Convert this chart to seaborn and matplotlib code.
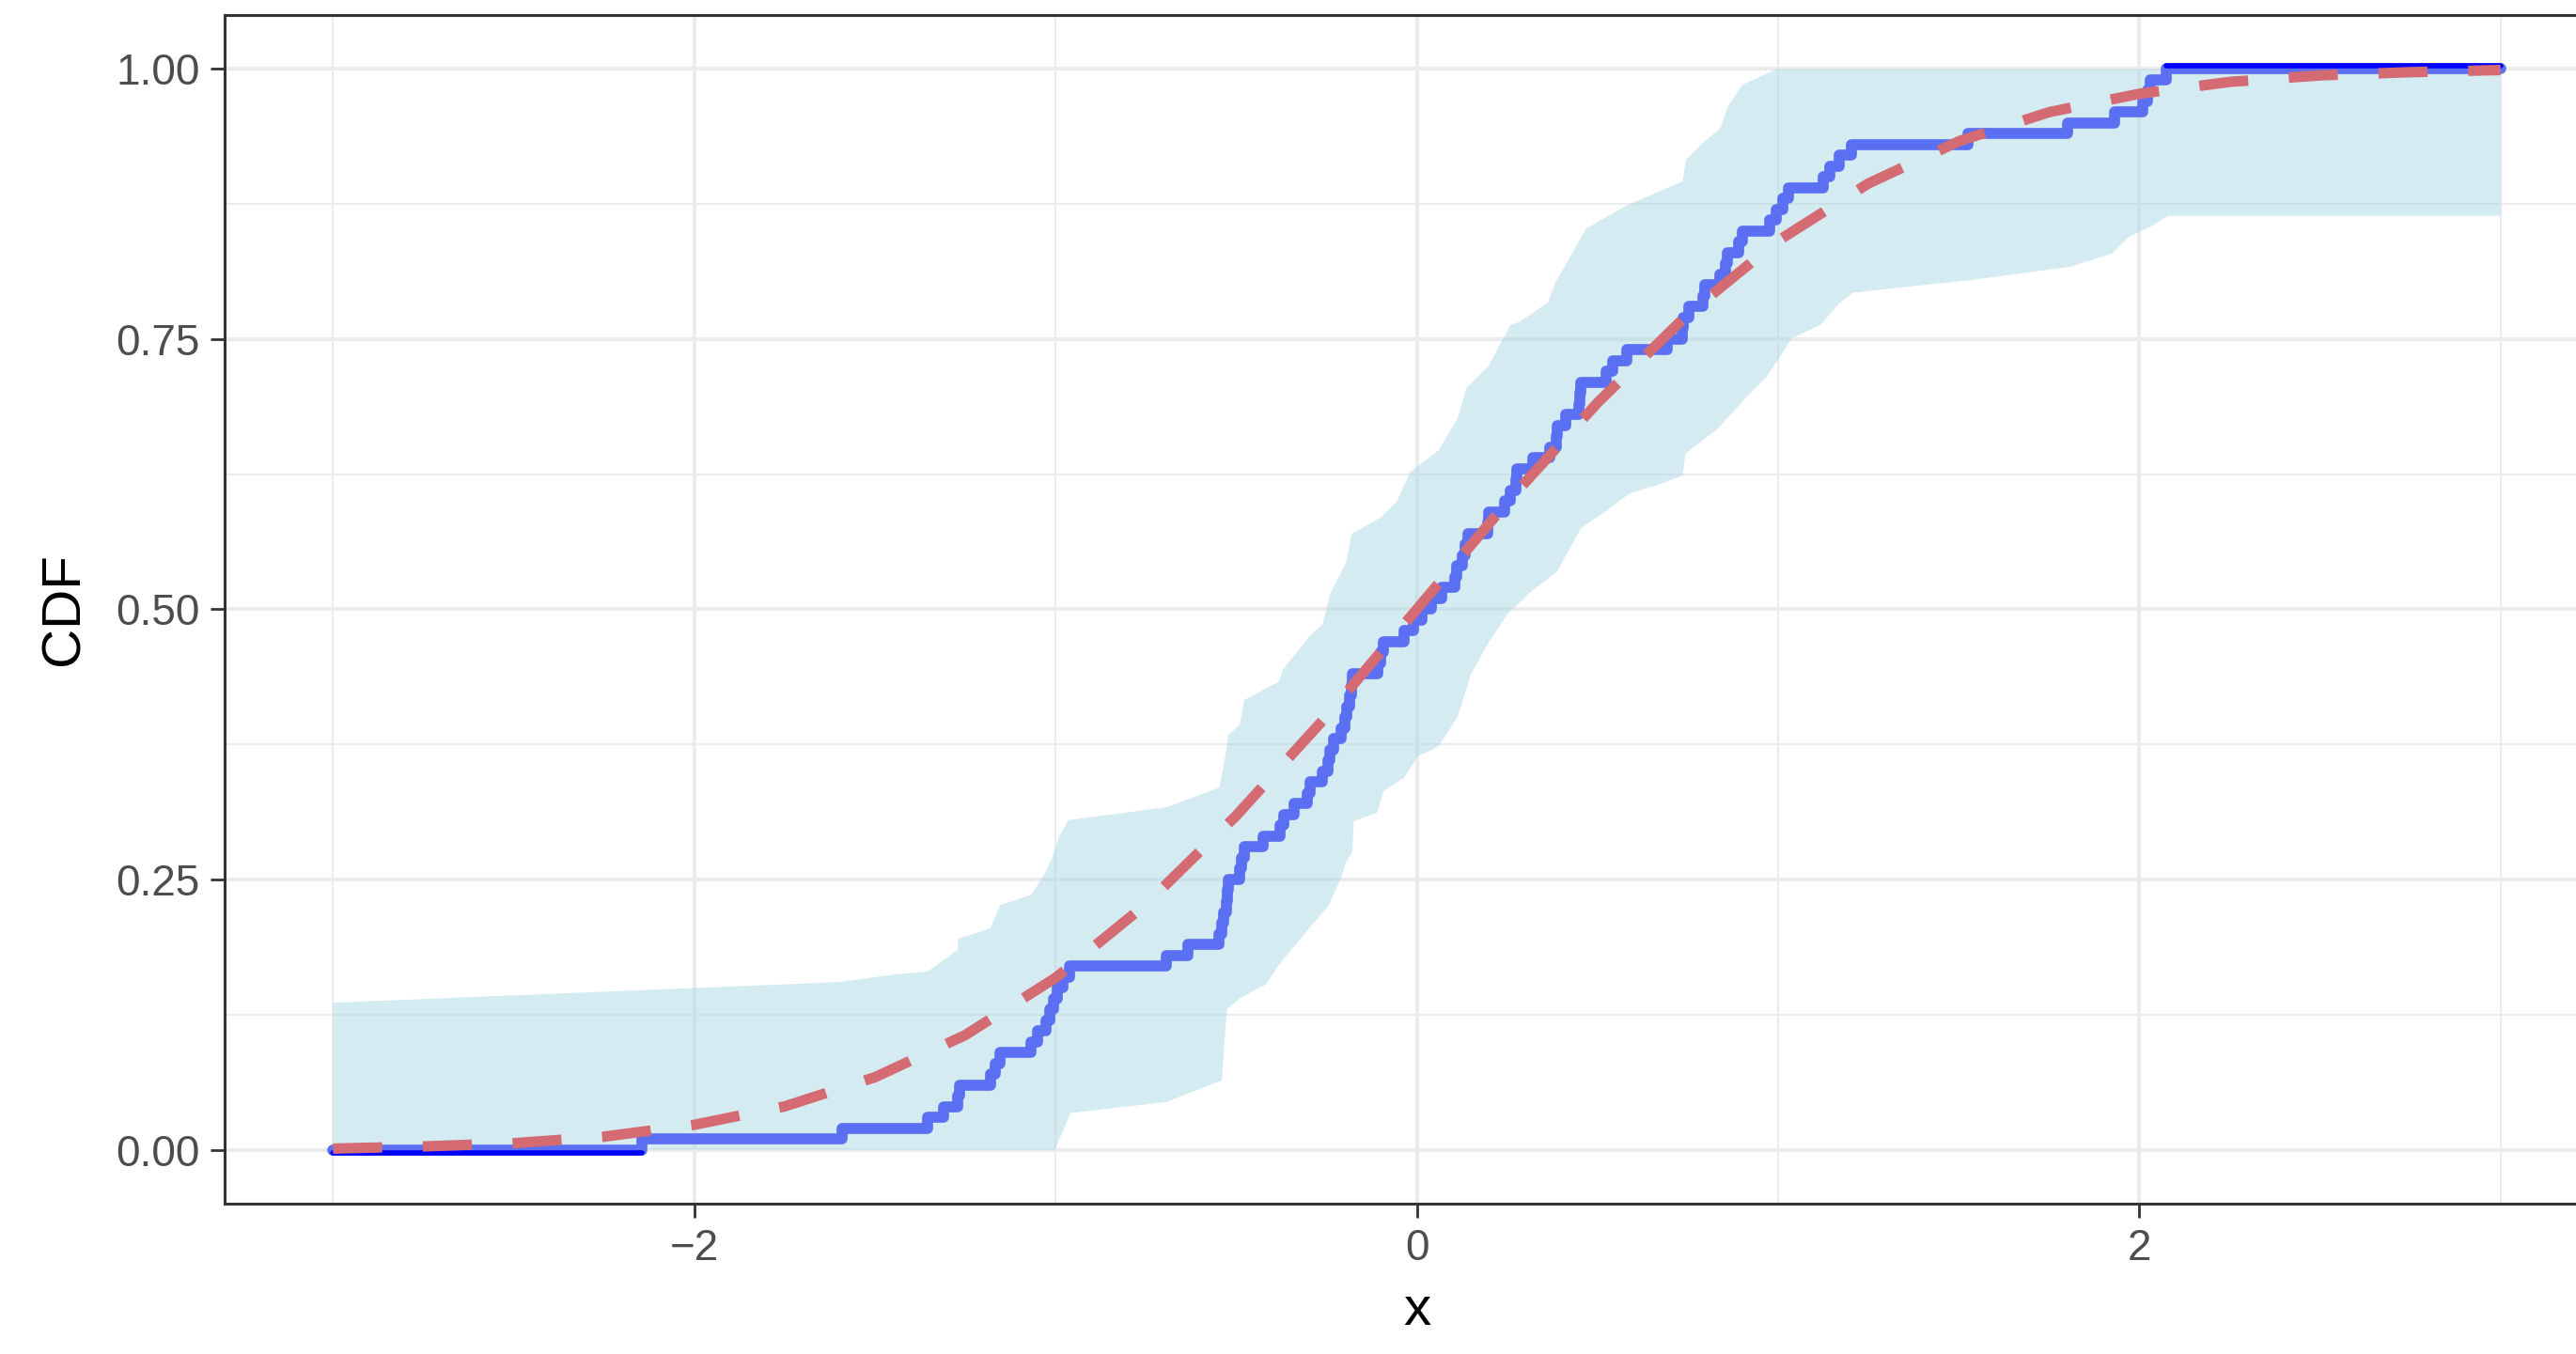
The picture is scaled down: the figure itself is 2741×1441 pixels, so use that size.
import numpy as np
import matplotlib
matplotlib.use('Agg')
import matplotlib.pyplot as plt
import matplotlib.transforms as mtransforms
import seaborn as sns

# sorted sample values (where the empirical CDF jumps)
samples = [-2.145, -1.59, -1.353, -1.31, -1.271, -1.265, -1.18, -1.167, -1.154, -1.067,
           -1.05, -1.026, -1.015, -1.005, -0.995, -0.98, -0.962, -0.694, -0.634, -0.547,
           -0.540, -0.536, -0.528, -0.525, -0.522, -0.490, -0.486, -0.477, -0.425, -0.378,
           -0.369, -0.339, -0.304, -0.295, -0.261, -0.245, -0.241, -0.230, -0.209, -0.198,
           -0.194, -0.185, -0.182, -0.179, -0.109, -0.100, -0.092, -0.036, -0.009, 0.013,
           0.040, 0.068, 0.105, 0.110, 0.125, 0.135, 0.142, 0.196, 0.200, 0.242,
           0.259, 0.274, 0.278, 0.320, 0.367, 0.385, 0.389, 0.411, 0.448, 0.451,
           0.455, 0.523, 0.541, 0.580, 0.692, 0.734, 0.738, 0.753, 0.792, 0.797,
           0.840, 0.855, 0.860, 0.890, 0.900, 0.978, 0.996, 1.013, 1.030, 1.126,
           1.143, 1.169, 1.204, 1.525, 1.802, 1.932, 2.010, 2.023, 2.030, 2.075]
x_lo, x_hi = -3, 3

# confidence band edges
band_upper_x = [-3, -1.6, -1.448, -1.353, -1.27, -1.27, -1.18, -1.154, -1.067, -1.03,
                -1.01, -0.99, -0.964, -0.69, -0.634, -0.547, -0.534, -0.521, -0.49, -0.478,
                -0.382, -0.369, -0.3, -0.261, -0.239, -0.196, -0.18, -0.1, -0.055, -0.018,
                0.06, 0.112, 0.138, 0.198, 0.259, 0.285, 0.363, 0.385, 0.468, 0.582,
                0.632, 0.736, 0.745, 0.797, 0.84, 0.861, 0.9, 0.996, 3]
band_upper_y = [0.136, 0.155, 0.162, 0.165, 0.185, 0.195, 0.205, 0.226, 0.236, 0.255,
                0.27, 0.29, 0.305, 0.317, 0.324, 0.335, 0.356, 0.384, 0.393, 0.416,
                0.433, 0.445, 0.474, 0.486, 0.515, 0.543, 0.57, 0.585, 0.6, 0.627,
                0.647, 0.676, 0.705, 0.725, 0.763, 0.766, 0.784, 0.803, 0.852, 0.874,
                0.881, 0.896, 0.916, 0.933, 0.945, 0.965, 0.985, 1.0, 1.0]
band_lower_x = [-3, -1.002, -0.976, -0.959, -0.694, -0.634, -0.54, -0.53, -0.525, -0.49,
                -0.417, -0.382, -0.304, -0.244, -0.209, -0.196, -0.179, -0.174, -0.109, -0.092,
                -0.036, 0.003, 0.06, 0.112, 0.15, 0.2, 0.25, 0.311, 0.389, 0.454,
                0.528, 0.588, 0.675, 0.736, 0.744, 0.832, 0.923, 0.968, 1.039, 1.117,
                1.169, 1.208, 1.542, 1.81, 1.923, 1.968, 2.036, 2.079, 3]
band_lower_y = [0, 0, 0.02, 0.034, 0.044, 0.052, 0.064, 0.11, 0.13, 0.14,
                0.153, 0.171, 0.2025, 0.226, 0.252, 0.266, 0.275, 0.304, 0.312, 0.332,
                0.344, 0.364, 0.373, 0.4, 0.44, 0.47, 0.495, 0.515, 0.535, 0.575,
                0.592, 0.607, 0.616, 0.624, 0.644, 0.667, 0.70, 0.715, 0.751, 0.763,
                0.783, 0.793, 0.805, 0.817, 0.829, 0.844, 0.855, 0.864, 0.864]

# theoretical (normal) CDF read at a grid
norm_x = [-3, -2.75, -2.5, -2.25, -2, -1.75, -1.5, -1.25, -1, -0.75, -0.5, -0.25, 0,
          0.25, 0.5, 0.75, 1, 1.25, 1.5, 1.75, 2, 2.25, 2.5, 2.75, 3]
norm_y = [0.001, 0.003, 0.006, 0.012, 0.023, 0.040, 0.067, 0.106, 0.159, 0.227, 0.309, 0.401, 0.5,
          0.599, 0.691, 0.773, 0.841, 0.894, 0.933, 0.960, 0.977, 0.988, 0.994, 0.997, 0.999]

n = len(samples)
ecdf_x = [x_lo] + samples + [x_hi]
ecdf_y = [0.0] + list(np.arange(1, n + 1) / n) + [1.0]

sns.set_theme(style='white')
plt.rcParams['font.family'] = ['Liberation Sans', 'DejaVu Sans']

fig = plt.figure(figsize=(2741 / 200, 1441 / 200), dpi=200)
ax = fig.add_axes([0.0872, 0.111, 0.9256, 0.878])

# band
ax.fill(np.r_[band_upper_x, band_lower_x[::-1]], np.r_[band_upper_y, band_lower_y[::-1]],
        color='lightblue', alpha=0.5, lw=0, zorder=1)

# empirical CDF
sns.lineplot(x=ecdf_x, y=ecdf_y, drawstyle='steps-post', color='#5A6FF2', lw=4.2,
             estimator=None, sort=False, ax=ax, zorder=2,
             solid_capstyle='round', solid_joinstyle='round')

# pure blue tails
down = mtransforms.offset_copy(ax.transData, fig=fig, x=0, y=-3.0, units='dots')
up = mtransforms.offset_copy(ax.transData, fig=fig, x=0, y=3.0, units='dots')
ax.plot([x_lo, samples[0]], [0, 0], color='blue', lw=2.0, transform=down, zorder=3,
        solid_capstyle='round')
ax.plot([samples[-1], x_hi], [1, 1], color='blue', lw=2.0, transform=up, zorder=3,
        solid_capstyle='round')

# theoretical CDF
sns.lineplot(x=norm_x, y=norm_y, color='#D46B73', lw=4.0, ax=ax, zorder=4)
ax.lines[-1].set_dashes((4.7, 3.9))
ax.lines[-1].set_dash_capstyle('butt')

ax.set_xlim(-3.3, 3.3)
ax.set_ylim(-0.05, 1.05)
ax.set_xticks([-2, 0, 2])
ax.set_xticks([-3, -1, 1, 3], minor=True)
ax.set_yticks([0, 0.25, 0.5, 0.75, 1.0])
ax.set_yticklabels(['0.00', '0.25', '0.50', '0.75', '1.00'])
ax.set_yticks([0.125, 0.375, 0.625, 0.875], minor=True)
ax.grid(which='major', color='#EBEBEB', lw=1.45)
ax.grid(which='minor', color='#EBEBEB', lw=0.75)
ax.set_axisbelow(True)

for s in ax.spines.values():
    s.set_color('#333333')
    s.set_linewidth(1.1)
ax.tick_params(which='major', length=5.3, width=1.0, color='#333333',
               labelsize=16.5, labelcolor='#4D4D4D', pad=4.2, left=True, bottom=True)
ax.tick_params(which='minor', length=0)

ax.set_xlabel('x', fontsize=21, color='black', labelpad=6)
ax.set_ylabel('CDF', fontsize=21, color='black', labelpad=10)

fig.savefig('out.png', dpi=200)
